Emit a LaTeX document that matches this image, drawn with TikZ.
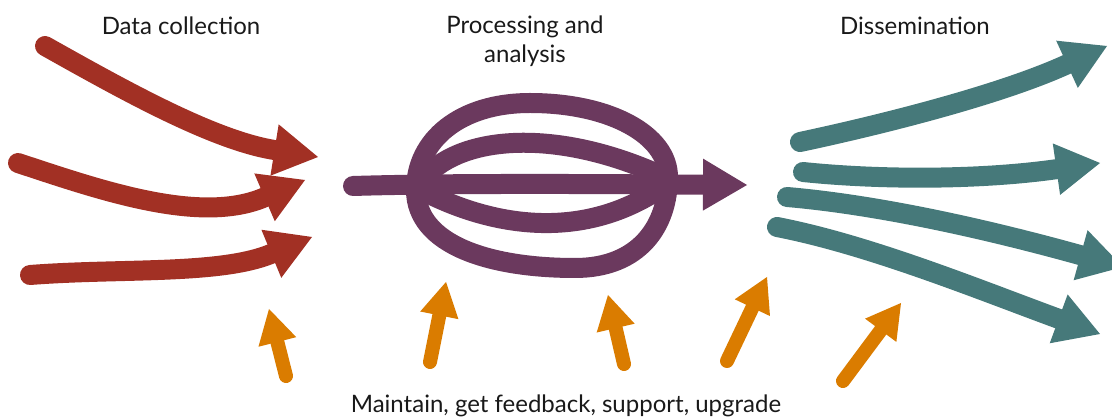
\documentclass[tikz,border=0pt]{standalone}
\usepackage{fontspec}
\setmainfont{Lato}
\usetikzlibrary{arrows.meta}
\definecolor{dcred}{HTML}{A23024}
\definecolor{dcpurple}{HTML}{6B395E}
\definecolor{dcteal}{HTML}{46797A}
\definecolor{dcorange}{HTML}{DA7C00}
\begin{document}
\begin{tikzpicture}[x=1pt,y=-1pt,
  bigflow/.style={line width=20pt, line cap=round, -{Triangle[length=44pt,width=52pt,line width=0pt]}},
  redflow/.style={bigflow, draw=dcred},
  purpleflow/.style={bigflow, draw=dcpurple},
  tealflow/.style={bigflow, draw=dcteal},
  loopline/.style={draw=dcpurple, line width=20pt, line cap=round},
  orangeflow/.style={draw=dcorange, line width=14pt, line cap=round, -{Triangle[length=34pt,width=39pt,line width=0pt]}},
  label/.style={font=\fontsize{24}{29}\selectfont, text=black!90, inner sep=0pt, align=center}]
\useasboundingbox (0,0) rectangle (1112,419);
\clip (0,0) rectangle (1112,419);

% titles
\node[label, anchor=base] (tcollect) at (181,35) {Data collection};
\node[label, anchor=base] (tprocess) at (525,63) {Processing and\\analysis};
\node[label, anchor=base] (tdissem) at (915,35) {Dissemination};
\node[label, anchor=base] (tmaint) at (566,413) {Maintain, get feedback, support, upgrade};

% data collection (red)
\coordinate (r1s) at (45,46);
\coordinate (r1e) at (318,157);
\coordinate (r2s) at (18,163);
\coordinate (r2e) at (305,180);
\coordinate (r3s) at (30,275);
\coordinate (r3e) at (312,237);
\draw[redflow] (r1s) .. controls (120,88) and (212,140) .. (r1e);
\draw[redflow] (r2s) .. controls (100,190) and (200,225) .. (r2e);
\draw[redflow] (r3s) .. controls (120,268) and (220,275) .. (r3e);

% processing (purple)
\coordinate (lt) at (530,103);
\coordinate (lr) at (668,177);
\coordinate (lb) at (575,268);
\coordinate (ll) at (416,190);
\draw[loopline] (lt) .. controls (610,103) and (668,135) .. (lr)
  .. controls (668,225) and (640,268) .. (lb)
  .. controls (490,268) and (416,245) .. (ll)
  .. controls (416,140) and (460,103) .. (lt) -- cycle;
\coordinate (pu1) at (430,172);
\coordinate (pu2) at (660,175);
\coordinate (pl1) at (425,192);
\coordinate (pl2) at (655,192);
\draw[loopline] (pu1) .. controls (470,135) and (560,130) .. (pu2);
\draw[loopline] (pl1) .. controls (480,220) and (570,245) .. (pl2);
\coordinate (ps) at (353,186);
\coordinate (pe) at (747,185);
\draw[purpleflow] (ps) .. controls (450,183) and (600,184) .. (pe);

% dissemination (teal)
\coordinate (t1s) at (800,142);
\coordinate (t1e) at (1107,46);
\coordinate (t2s) at (803,172);
\coordinate (t2e) at (1100,163);
\coordinate (t3s) at (787,197);
\coordinate (t3e) at (1123,267);
\coordinate (t4s) at (777,227);
\coordinate (t4e) at (1100,334);
\draw[tealflow] (t1s) .. controls (880,125) and (1000,95) .. (t1e);
\draw[tealflow] (t2s) .. controls (880,180) and (980,180) .. (t2e);
\draw[tealflow] (t3s) .. controls (880,205) and (990,230) .. (t3e);
\draw[tealflow] (t4s) .. controls (870,245) and (980,290) .. (t4e);

% maintenance (orange)
\coordinate (o1s) at (286,376);
\coordinate (o1e) at (269,309);
\coordinate (o2s) at (430,362);
\coordinate (o2e) at (446,282);
\coordinate (o3s) at (624,364);
\coordinate (o3e) at (608,295);
\coordinate (o4s) at (727,361);
\coordinate (o4e) at (767,277);
\coordinate (o5s) at (843,381);
\coordinate (o5e) at (901,303);
\draw[orangeflow] (o1s) -- (o1e);
\draw[orangeflow] (o2s) -- (o2e);
\draw[orangeflow] (o3s) -- (o3e);
\draw[orangeflow] (o4s) -- (o4e);
\draw[orangeflow] (o5s) -- (o5e);
\end{tikzpicture}
\end{document}
